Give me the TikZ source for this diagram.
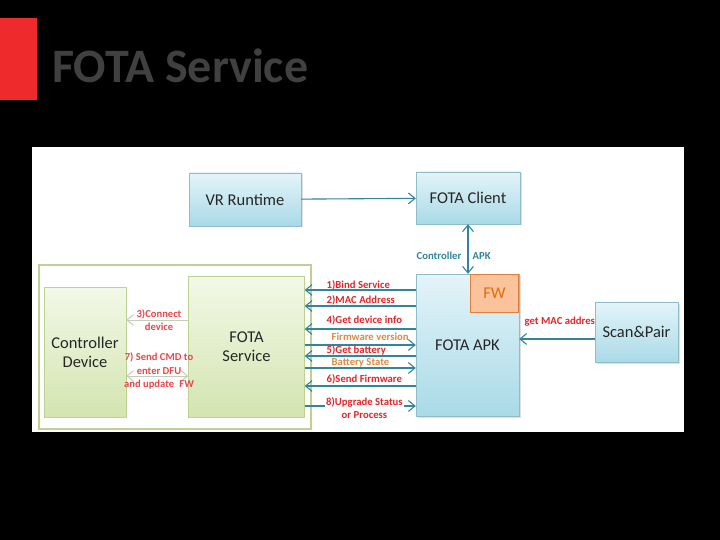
\documentclass[tikz,border=0pt]{standalone}
\usepackage{fontspec}
\setmainfont{Carlito}
\usetikzlibrary{arrows.meta, positioning, shadows}
\definecolor{accent}{HTML}{31859C}
\definecolor{ink}{HTML}{262626}
\definecolor{boxtop}{HTML}{E4F4F9}
\definecolor{boxbot}{HTML}{A9DAE7}
\definecolor{greentop}{HTML}{F3F8E8}
\definecolor{greenbot}{HTML}{D3E5B0}
\definecolor{greenedge}{HTML}{BDD191}
\definecolor{alert}{HTML}{E4262B}
\definecolor{fwfill}{HTML}{FAC39C}
\definecolor{fwedge}{HTML}{E0803C}
\definecolor{fwtext}{HTML}{E46C0A}
\definecolor{orangefw}{HTML}{F39A4A}
\definecolor{softlink}{HTML}{C4CCBC}
\definecolor{titlegray}{HTML}{404040}
\definecolor{barred}{HTML}{EE2A2D}

\begin{document}
\begin{tikzpicture}[x=1pt, y=-1pt,
    font=\fontsize{16.5}{19}\selectfont,
    box/.style={draw=accent!55, top color=boxtop, bottom color=boxbot, inner sep=2pt,
                align=center, text=ink,
                drop shadow={opacity=0.25, shadow xshift=1.5pt, shadow yshift=-1.5pt}},
    gbox/.style={draw=greenedge, top color=greentop, bottom color=greenbot,
                 align=center, text=ink},
    fwbox/.style={draw=fwedge, fill=fwfill, line width=1.2pt, text=fwtext},
    lbl/.style={font=\fontsize{10.7}{12.5}\selectfont\bfseries, text=alert, inner sep=0.5pt,
                anchor=west},
    olbl/.style={lbl, text=orangefw!90!black},
    tlbl/.style={lbl, text=accent},
    clbl/.style={font=\fontsize{10.6}{13.5}\selectfont\bfseries, text=alert!85, inner sep=0.5pt,
                 align=center},
    ar/.style={-{Straight Barb[length=2.3mm, width=3.8mm]}, accent, line width=1.1pt},
    sar/.style={-{Straight Barb[length=2.3mm, width=3.8mm]}, softlink, line width=1pt}
  ]
    \useasboundingbox[fill=black] (0,0) rectangle (720,540);
    \fill[barred] (0,18) rectangle (37,100);
    \node[anchor=base west, inner sep=0, text=titlegray,
          font=\fontsize{48}{54}\selectfont\bfseries] (title) at (52,83) {FOTA Service};
    \fill[white] (32,147) rectangle (684,432);

    % controller side
    \draw[greenedge, line width=2.5pt] (39,265) rectangle (311,429);
    \node[gbox, minimum width=82pt, minimum height=130pt] (ctrl) at (85,352) {Controller\\Device};
    \node[gbox, minimum width=116pt, minimum height=141pt] (svc) at (246.5,346.5) {FOTA\\Service};

    % apk side
    \node[box, minimum width=112pt, minimum height=53pt] (vr) at (245,199.5) {VR Runtime};
    \node[box, minimum width=104pt, minimum height=52pt] (client) at (468,198) {FOTA Client};
    \node[box, minimum width=103pt, minimum height=142pt] (apk) at (467.5,345) {FOTA APK};
    \node[fwbox, minimum width=48pt, minimum height=38pt] (fw) at (494.5,293.5) {FW};
    \node[lbl] (mac) at (524,322) {get MAC address};
    \node[box, minimum width=83pt, minimum height=60pt] (scan) at (636.5,332) {Scan\&Pair};

    \draw[ar] (vr) -- (client);
    \draw[ar, {Straight Barb[length=2.3mm, width=3.8mm]}-{Straight Barb[length=2.3mm, width=3.8mm]}]
      (client.south) -- (client.south |- apk.north);
    \node[tlbl, anchor=east] (cl) at (462,256) {Controller};
    \node[tlbl] (al) at (472,256) {APK};
    \draw[ar] (scan.west |- 0,339) -- (apk.east |- 0,339);

    % service <-> apk
    \draw[ar] (apk.west |- 0,290) -- (svc.east |- 0,290);
    \draw[ar] (apk.west |- 0,306) -- (svc.east |- 0,306);
    \draw[ar] (apk.west |- 0,329) -- (svc.east |- 0,329);
    \draw[ar] (svc.east |- 0,345) -- (apk.west |- 0,345);
    \draw[ar] (apk.west |- 0,356) -- (svc.east |- 0,356);
    \draw[ar] (svc.east |- 0,368) -- (apk.west |- 0,368);
    \draw[ar] (apk.west |- 0,386) -- (svc.east |- 0,386);
    \draw[ar] (svc.east |- 0,406) -- (apk.west |- 0,406);
    \node[lbl] (l1) at (326,285) {1)Bind Service};
    \node[lbl] (l2) at (326,300) {2)MAC Address};
    \node[lbl] (l4) at (326,320) {4)Get device info};
    \node[olbl] (l4r) at (331,337) {Firmware version};
    \node[lbl] (l5) at (326,350) {5)Get battery};
    \node[olbl] (l5r) at (331,363) {Battery State};
    \node[lbl] (l6) at (326,379) {6)Send Firmware};
    \node[lbl, fill=white, align=center, inner sep=1pt] (l8) at (325,408) {8)Upgrade Status\\or Process};

    % controller <-> service
    \draw[sar] (svc.west |- 0,320) -- (ctrl.east |- 0,320);
    \draw[sar, {Straight Barb[length=2.3mm, width=3.8mm]}-{Straight Barb[length=2.3mm, width=3.8mm]}]
      (ctrl.east |- 0,376) -- (svc.west |- 0,376);
    \node[clbl] (l3) at (159,320) {3)Connect\\device};
    \node[clbl] (l7) at (159,371) {7) Send CMD to\\enter DFU\\and update\enspace FW};
  \end{tikzpicture}
\end{document}
